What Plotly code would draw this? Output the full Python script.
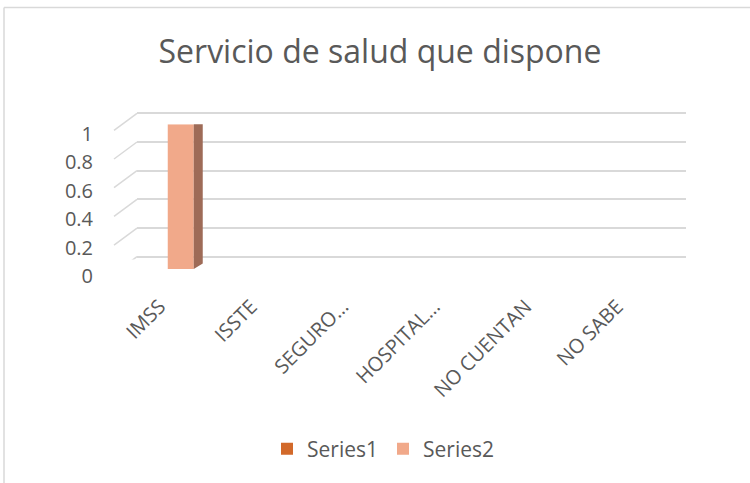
import plotly.graph_objects as go

# ---- data ----
categories = ["IMSS", "ISSTE", "SEGURO…", "HOSPITAL…", "NO CUENTAN", "NO SABE"]
series1 = [0, 0, 0, 0, 0, 0]
series2 = [1, 0, 0, 0, 0, 0]
y_ticks = [0, 0.2, 0.4, 0.6, 0.8, 1]
y_ticktext = ["0", "0.2", "0.4", "0.6", "0.8", "1"]
title_text = "Servicio de salud que dispone"

# ---- styling / geometry ----
W, H = 750, 483
FONT = "Open Sans"
TXT = "#595959"
GRID = "#D9D9D9"
C1 = "#D2692A"
C2 = "#F1A98A"
C2_SIDE = "#9E6B57"
C2_TOP = "#C1876D"


def fx(p):
    return p / W


def fy(p):
    return 1 - p / H


n = len(categories)
xr = [-0.5, n - 0.5]

# back wall (gridlines); range padded slightly so the 0 and 1 gridlines are drawn
E = 0.02
back_unit = 256.7 - 113.3
back_x = [fx(137), fx(686)]
back_y = [fy(256.7 + E * back_unit), fy(113.3 - E * back_unit)]
# front plane (labels)
front_x = [fx(114), fx(663)]
front_y = [fy(276), fy(133.7)]
# bar front face plane
bar_x = [fx(122), fx(671)]
bar_y = [fy(269), fy(124.3)]

bar_w = 0.284  # fraction of category per bar
x_per_px = n / (671 - 122)
y_per_px = 1 / (269 - 124.3)
ddx = 9 * x_per_px
ddy = 5.5 * y_per_px

fig = go.Figure()

idx = list(range(n))
fig.add_trace(go.Bar(x=idx, y=series1, name="Series1", marker=dict(color=C1, line=dict(width=0)),
                     xaxis="x3", yaxis="y3"))
fig.add_trace(go.Bar(x=idx, y=series2, name="Series2", marker=dict(color=C2, line=dict(width=0)),
                     xaxis="x3", yaxis="y3"))

# 3D side / top faces of the non-zero bars (Series2 sits right of the category centre)
for series, offs, side_c, top_c in [(series1, -bar_w, "#8E4A1E", "#B45C24"),
                                     (series2, 0.0, C2_SIDE, C2_TOP)]:
    for i, v in enumerate(series):
        if v == 0:
            continue
        l = i + offs
        r = l + bar_w
        fig.add_trace(go.Scatter(
            x=[r, r, r + ddx, r + ddx, r], y=[0, v, v + ddy, ddy, 0],
            mode="lines", fill="toself", fillcolor=side_c, line=dict(width=0, color=side_c),
            showlegend=False, hoverinfo="skip", xaxis="x3", yaxis="y3"))
        fig.add_trace(go.Scatter(
            x=[l, r, r + ddx, l + ddx, l], y=[v, v, v + ddy, v + ddy, v],
            mode="lines", fill="toself", fillcolor=top_c, line=dict(width=0, color=top_c),
            showlegend=False, hoverinfo="skip", xaxis="x3", yaxis="y3"))

# invisible traces so the label and back-wall subplots are drawn
fig.add_trace(go.Scatter(x=idx, y=[0] * n, mode="markers", marker=dict(opacity=0),
                         showlegend=False, hoverinfo="skip", xaxis="x2", yaxis="y2"))
fig.add_trace(go.Scatter(x=idx, y=[0] * n, mode="markers", marker=dict(opacity=0),
                         showlegend=False, hoverinfo="skip", xaxis="x", yaxis="y"))

shapes = []
# side-wall gridlines (perspective), one per y tick
for t in y_ticks:
    shapes.append(dict(type="line", xref="paper", yref="y", ysizemode="pixel", yanchor=t,
                       x0=fx(114), x1=fx(137), y0=-17, y1=0,
                       line=dict(color=GRID, width=1.5), layer="below"))
# chart frame
shapes.append(dict(type="line", xref="paper", yref="paper", x0=fx(4), x1=1.0, y0=fy(7.5), y1=fy(7.5),
                   line=dict(color=GRID, width=1.5)))
shapes.append(dict(type="line", xref="paper", yref="paper", x0=fx(4), x1=fx(4), y0=0, y1=fy(7.5),
                   line=dict(color=GRID, width=1.5)))

fig.update_layout(
    template="none",
    width=W, height=H, autosize=False,
    margin=dict(l=0, r=0, t=0, b=0, pad=0, autoexpand=False),
    paper_bgcolor="white", plot_bgcolor="rgba(0,0,0,0)",
    font=dict(family=FONT, color=TXT, size=20),
    title=dict(text=title_text, x=fx(380), xanchor="center", y=fy(52), yanchor="middle",
               font=dict(family=FONT, size=32, color=TXT)),
    barmode="group", bargap=1 - 2 * bar_w, bargroupgap=0,
    showlegend=True,
    legend=dict(orientation="h", x=fx(383), xanchor="center", y=fy(449), yanchor="middle",
                font=dict(family=FONT, size=21, color=TXT), bgcolor="rgba(0,0,0,0)"),
    # back wall
    xaxis=dict(domain=back_x, range=xr, showgrid=False, showticklabels=False, zeroline=False,
               showline=False, ticks="", anchor="y", automargin=False),
    yaxis=dict(domain=back_y, range=[-E, 1 + E], tickvals=y_ticks, showgrid=True, gridcolor=GRID,
               gridwidth=1.5, showticklabels=False, zeroline=False, showline=False, ticks="",
               anchor="x", automargin=False),
    # front plane (labels)
    xaxis2=dict(domain=front_x, range=xr, tickvals=idx, ticktext=categories, tickangle=-45,
                showgrid=False, zeroline=False, showline=False, ticks="", anchor="y2",
                automargin=False, ticklabelstandoff=14,
                tickfont=dict(family=FONT, size=20, color=TXT)),
    yaxis2=dict(domain=front_y, range=[0, 1], tickvals=y_ticks, ticktext=y_ticktext,
                showgrid=False, zeroline=False, showline=False, ticks="", anchor="x2",
                automargin=False, ticklabelstandoff=20,
                tickfont=dict(family=FONT, size=20, color=TXT)),
    # bar plane
    xaxis3=dict(domain=bar_x, range=xr, visible=False, anchor="y3", automargin=False),
    yaxis3=dict(domain=bar_y, range=[0, 1], visible=False, anchor="x3", automargin=False),
    shapes=shapes,
)

fig.write_html("out.html", config={"displayModeBar": False},
               post_script="document.body.style.margin='0';")
